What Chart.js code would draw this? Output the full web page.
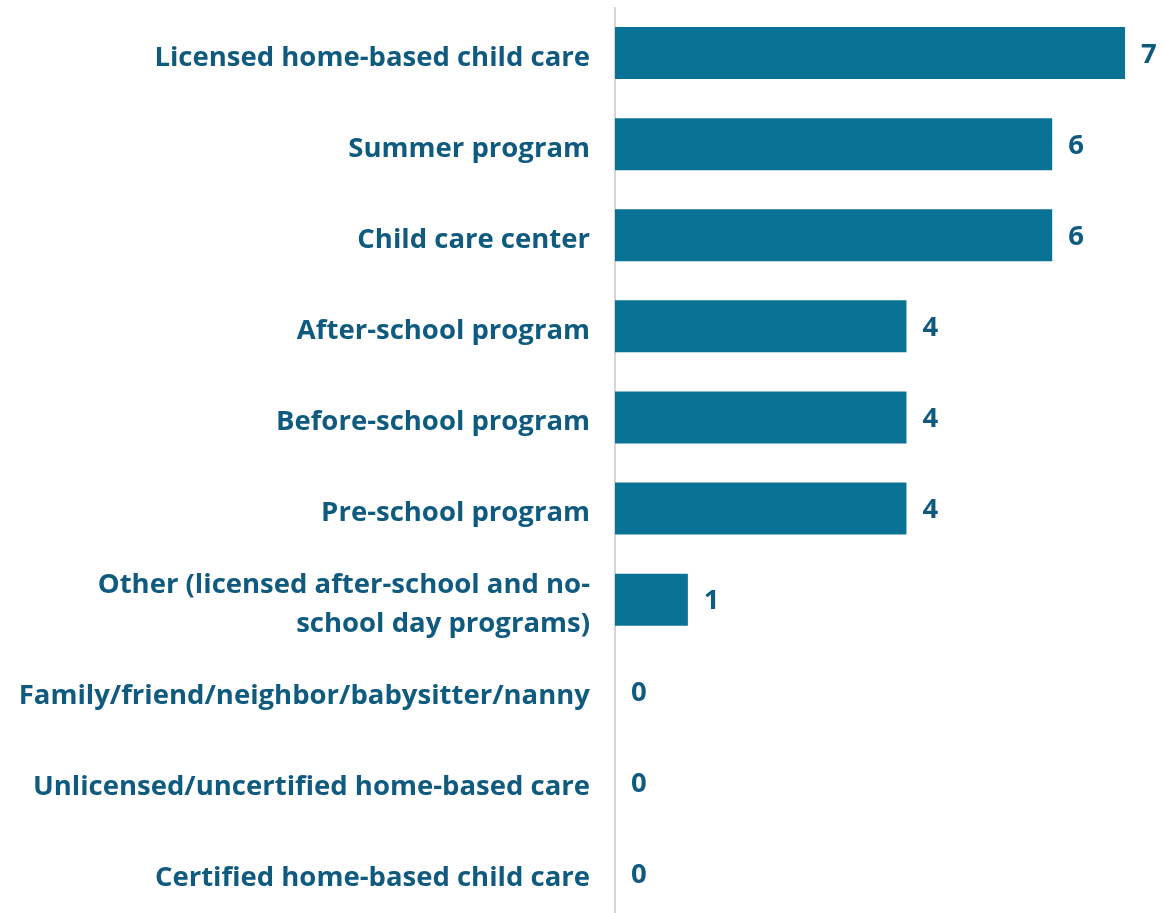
<!DOCTYPE html>
<html>
<head>
<meta charset="utf-8">
<script src="https://cdn.jsdelivr.net/npm/chart.js@4.4.1/dist/chart.umd.min.js"></script>
<style>
  html, body { margin: 0; padding: 0; background: #ffffff; overflow: hidden; }
  #wrap { position: relative; width: 1164px; height: 920px; }
</style>
</head>
<body>
<div id="wrap"><canvas id="c"></canvas></div>
<script>
const categories = [
  "Licensed home-based child care",
  "Summer program",
  "Child care center",
  "After-school program",
  "Before-school program",
  "Pre-school program",
  ["Other (licensed after-school and no-", "school day programs)"],
  "Family/friend/neighbor/babysitter/nanny",
  "Unlicensed/uncertified home-based care",
  "Certified home-based child care"
];
const counts = [7, 6, 6, 4, 4, 4, 1, 0, 0, 0];

const BAR_COLOR = "#0a7395";
const TEXT_COLOR = "#0f5b80";
const FONT_FAMILY = "'Open Sans', 'Noto Sans', sans-serif";
const FONT_SIZE = 27.5;

const valueLabels = {
  id: "valueLabels",
  afterDatasetsDraw(chart) {
    const ctx = chart.ctx;
    const meta = chart.getDatasetMeta(0);
    ctx.save();
    ctx.font = "bold " + FONT_SIZE + "px " + FONT_FAMILY;
    ctx.fillStyle = TEXT_COLOR;
    ctx.textAlign = "left";
    ctx.textBaseline = "middle";
    meta.data.forEach((bar, i) => {
      ctx.fillText(String(counts[i]), bar.x + 16, bar.y + 2);
    });
    ctx.restore();
  }
};

new Chart(document.getElementById("c"), {
  type: "bar",
  data: {
    labels: categories,
    datasets: [{
      data: counts,
      backgroundColor: BAR_COLOR,
      borderWidth: 0,
      categoryPercentage: 1,
      barPercentage: 0.571
    }]
  },
  options: {
    indexAxis: "y",
    responsive: true,
    maintainAspectRatio: false,
    animation: false,
    layout: { padding: { top: 7.5, bottom: 1.5, left: 0, right: 2.5 } },
    plugins: {
      legend: { display: false },
      tooltip: { enabled: false }
    },
    scales: {
      x: {
        display: false,
        min: 0,
        max: 7.5,
        grid: { display: false }
      },
      y: {
        afterFit(scale) {
          scale.width = 615;
          scale.paddingTop = 0;
          scale.paddingBottom = 0;
        },
        grid: { display: false, drawTicks: false },
        border: { display: true, color: "#d6d6d6", width: 2 },
        ticks: {
          padding: 25,
          labelOffset: 5,
          color: TEXT_COLOR,
          font: { family: FONT_FAMILY, size: FONT_SIZE, weight: "bold", lineHeight: 1.45 }
        }
      }
    }
  },
  plugins: [valueLabels]
});
</script>
</body>
</html>
